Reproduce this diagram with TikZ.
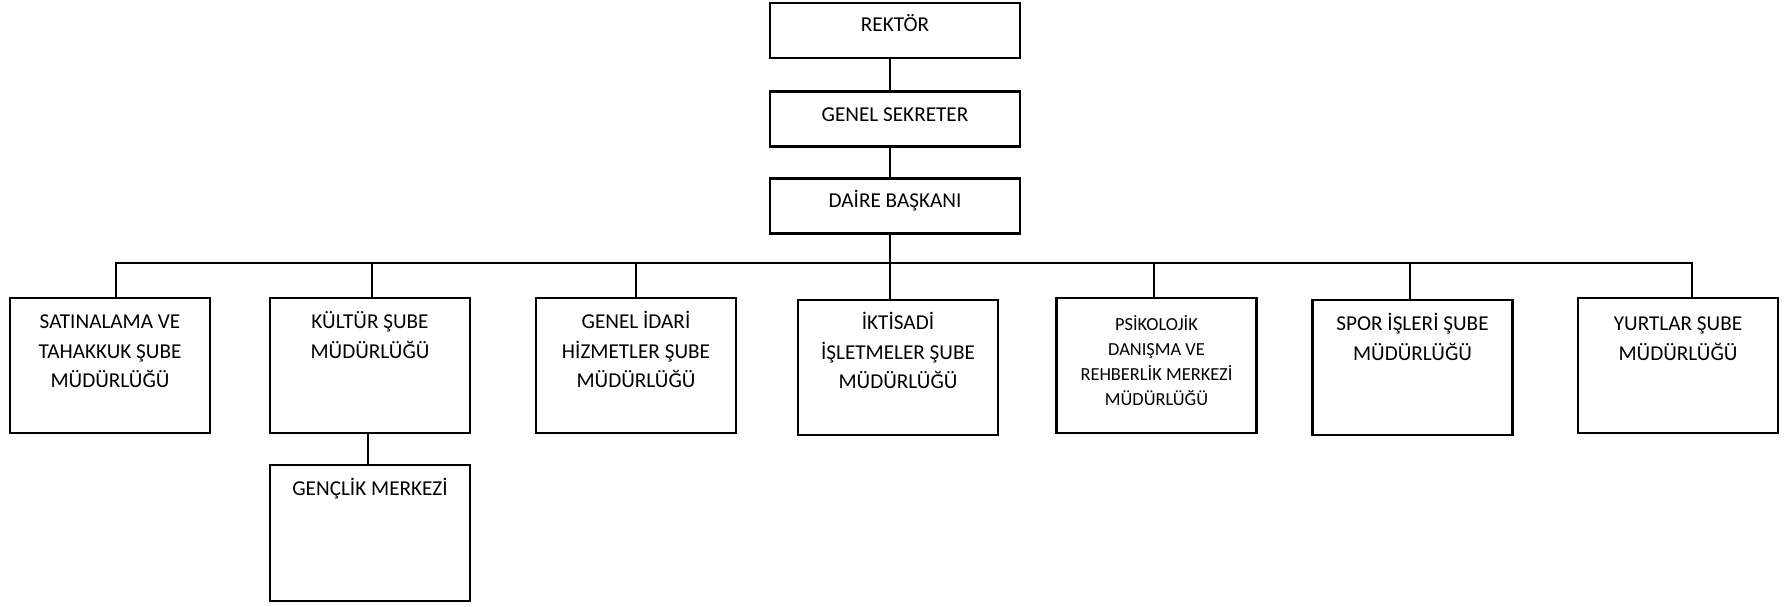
\documentclass[tikz,border=0pt]{standalone}
\usepackage{fontspec}
\setmainfont{Carlito}
\tikzset{
  box/.style={draw=black, line width=2.2pt, rectangle, inner sep=0pt},
  topbox/.style={box, minimum width=250pt, minimum height=55pt},
  rowbox/.style={box, minimum width=200pt, minimum height=135pt},
  lbl/.style={anchor=base, inner sep=0pt, text width=196pt, align=flush center,
              font=\fontsize{21.2pt}{29.3pt}\selectfont},
  smalllbl/.style={lbl, font=\fontsize{18.4pt}{24.7pt}\selectfont},
  conn/.style={draw=black, line width=2.2pt, line join=miter, line cap=rect}
}
\begin{document}
\begin{tikzpicture}[x=1pt,y=-1pt]
\useasboundingbox (0,0) rectangle (1787,607);
% top chain
\node[topbox] (rek) at (895,30.5) {};
\node[topbox] (gs)  at (895,119) {};
\node[topbox] (dai) at (895,206) {};
\node[lbl] (rekT) at ([yshift=-30pt]rek.north) {REKTÖR};
\node[lbl] (gsT)  at ([yshift=-31pt]gs.north) {GENEL SEKRETER};
\node[lbl] (daiT) at ([yshift=-30pt]dai.north) {DAİRE BAŞKANI};
% row
\node[rowbox] (sat) at (110,365.5) {};
\node[rowbox] (kul) at (370,365.5) {};
\node[rowbox] (gen) at (636,365.5) {};
\node[rowbox] (ikt) at (898,367.5) {};
\node[rowbox] (psi) at (1156.5,365.5) {};
\node[rowbox] (spo) at (1412.5,367.5) {};
\node[rowbox] (yur) at (1678,365.5) {};
\node[rowbox, minimum height=136pt] (gnc) at (370,533) {};
\node[lbl] (satT) at ([yshift=-32pt]sat.north) {SATINALAMA VE\\TAHAKKUK ŞUBE\\MÜDÜRLÜĞÜ};
\node[lbl] (kulT) at ([yshift=-32pt]kul.north) {KÜLTÜR ŞUBE\\MÜDÜRLÜĞÜ};
\node[lbl] (genT) at ([yshift=-32pt]gen.north) {GENEL İDARİ\\HİZMETLER ŞUBE\\MÜDÜRLÜĞÜ};
\node[lbl] (iktT) at ([yshift=-31pt]ikt.north) {İKTİSADİ\\İŞLETMELER ŞUBE\\MÜDÜRLÜĞÜ};
\node[smalllbl] (psiT) at ([yshift=-34pt]psi.north) {PSİKOLOJİK\\DANIŞMA VE\\REHBERLİK MERKEZİ\\MÜDÜRLÜĞÜ};
\node[lbl] (spoT) at ([yshift=-32pt]spo.north) {SPOR İŞLERİ ŞUBE\\MÜDÜRLÜĞÜ};
\node[lbl] (yurT) at ([yshift=-34pt]yur.north) {YURTLAR ŞUBE\\MÜDÜRLÜĞÜ};
\node[lbl] (gncT) at ([yshift=-32pt]gnc.north) {GENÇLİK MERKEZİ};
% connectors
\coordinate (bus) at (0,263);
\draw[conn] ([xshift=-5pt]rek.south) -- ([xshift=-5pt]gs.north);
\draw[conn] ([xshift=-5pt]gs.south) -- ([xshift=-5pt]dai.north);
\draw[conn] ([xshift=-5pt]dai.south) -- ([xshift=-5pt]dai.south |- ikt.north);
\draw[conn, line cap=butt] ([xshift=6pt]sat.north) |- ([xshift=14pt]yur.north |- bus) -- ([xshift=14pt]yur.north);
\draw[conn] ([xshift=2pt]kul.north) -- ([xshift=2pt]kul.north |- bus);
\draw[conn] (gen.north) -- (gen.north |- bus);
\draw[conn] ([xshift=-2.5pt]psi.north) -- ([xshift=-2.5pt]psi.north |- bus);
\draw[conn] ([xshift=-2.5pt]spo.north) -- ([xshift=-2.5pt]spo.north |- bus);
\draw[conn] ([xshift=-2pt]kul.south) -- ([xshift=-2pt]gnc.north);
\end{tikzpicture}
\end{document}
